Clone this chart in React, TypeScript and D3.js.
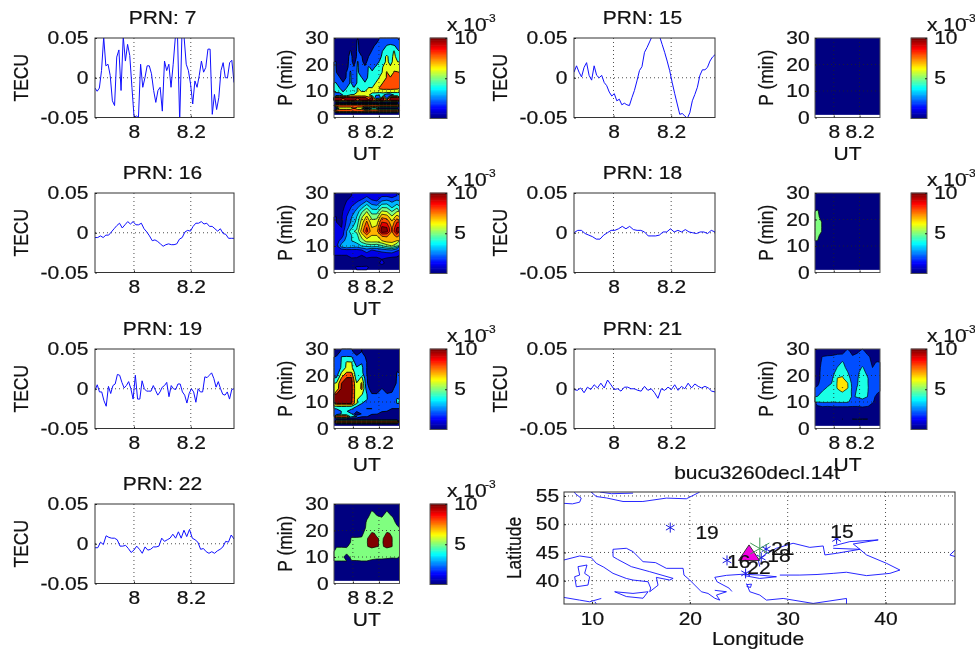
import React, { useEffect, useRef } from "react";
import * as d3 from "d3";

// TEC series per PRN (TECU), evenly sampled over the UT window
const prn7 = [-0.013,-0.017,-0.013,0.009,0.051,0.015,0.017,0.003,-0.029,-0.035,0.026,0.035,-0.016,0.052,0.021,0.042,0.028,-0.012,-0.05,-0.048,-0.05,0.017,-0.012,0,0.015,0.015,0.005,-0.016,-0.031,-0.016,-0.012,-0.042,0.021,0.009,0.017,-0.012,0.017,0.051,0.052,-0.055,0.052,0.052,0.017,0.009,-0.008,-0.033,-0.004,-0.012,0.003,0.021,0.007,0.013,0.036,0.036,-0.046,-0.021,-0.04,-0.025,0.009,0.019,0,0,0.019,0.022,-0.006];
const prn15 = [0.007,0.015,0.007,0.001,0.013,0.019,0.003,-0.003,0.015,0.003,0,0.003,-0.006,-0.01,-0.018,-0.023,-0.02,-0.029,-0.027,-0.034,-0.032,-0.034,-0.035,-0.025,-0.016,-0.004,0.009,0.014,0.032,0.038,0.045,0.052,0.056,0.058,0.052,0.042,0.032,0.021,0.009,-0.006,-0.02,-0.033,-0.046,-0.045,-0.048,-0.051,-0.044,-0.029,-0.021,-0.012,0.003,0.01,0.01,0.013,0.021,0.026,0.029];
const prn16 = [-0.006,-0.006,-0.004,-0.006,-0.003,-0.003,0.001,0.005,0.009,0.012,0.006,0.01,0.014,0.011,0.014,0.01,0.01,0.012,0.005,0.001,-0.004,-0.01,-0.009,-0.011,-0.014,-0.017,-0.015,-0.014,-0.015,-0.015,-0.014,-0.008,-0.006,0.001,0.003,0.002,0.008,0.012,0.012,0.014,0.011,0.012,0.008,0.008,0.005,0.002,0.005,-0.001,-0.002,-0.007,-0.007,-0.007];
const prn18 = [0,0.003,0.003,-0.001,-0.003,-0.005,-0.008,-0.008,-0.003,0,0.003,0.003,0.005,0.008,0.005,0.008,0.004,0.003,0.003,0.001,-0.004,-0.004,-0.004,-0.003,0.001,0.001,0.005,0.001,0.003,0.001,0.004,0.001,0,-0.001,0.001,0.001,-0.001,0.003,0.001];
const prn19 = [-0.002,0.005,-0.004,-0.004,-0.015,-0.022,0.003,-0.006,0.004,0.006,0.018,0.017,0.008,0.001,0.004,0.009,0,-0.013,0.017,-0.013,-0.013,0.01,0,-0.003,-0.003,-0.003,0.004,-0.002,-0.008,-0.004,0.002,0.004,0.008,-0.01,0.004,0,-0.001,0.006,0.006,-0.004,-0.008,-0.018,-0.006,0,-0.004,-0.017,0,-0.004,-0.004,0.015,0.014,0.017,0.02,0.013,0.002,0.009,0,-0.007,-0.008,-0.004,-0.013,-0.001,0];
const prn21 = [-0.001,-0.002,0.001,-0.005,0.002,-0.001,0.005,0.001,0.007,0.001,0.011,0.005,-0.001,0,-0.003,0.002,0.002,0,0,-0.002,-0.003,0.003,-0.002,0,-0.005,-0.012,0,-0.002,0.002,-0.001,0.005,-0.002,0.003,0,0.007,0.001,0.006,0.003,0.001,0.003,0.001,-0.003,-0.004];
const prn22 = [-0.005,-0.005,0.002,-0.001,0.01,0.008,0.007,0.007,0.005,-0.003,-0.003,-0.002,-0.006,-0.011,-0.008,-0.003,-0.007,-0.012,-0.004,-0.008,-0.007,-0.004,-0.004,-0.003,0.007,0.003,0.005,0.007,0.012,0.007,0.015,0.007,0.017,0.009,0.018,0.007,0.005,0.002,-0.007,-0.006,-0.01,-0.012,-0.01,-0.012,-0.009,-0.007,-0.004,0.003,0.002,0.011,0.006];

// period rows (min), top to bottom
const pCoarse = [29,27,25,23,21,19,17,15.5,14,12,10,8.5,6.5,5,3.5,2];
const pFine = [29,27,25,23,21,19,17,15,13,11,9.5,8.5,7.5,6.5,5.5,4.5,3.5,2.5,1.5];

// spectrum amplitude (x 10^-3), rows follow the p arrays, columns follow UT
const spec7 = [
  [.5,.5,.5,.5,.5,1,2.2,1,.8,.8,1,1.2,2.4,2.4,2.6,3,2.6,2.2],
  [.5,.5,.5,.5,.5,.8,2.4,1,.8,1,1.5,2.4,2.4,2.8,4.2,4.4,4.2,3.5],
  [.5,.6,.5,.5,2.2,1,2.5,1,1.2,1.2,2.2,2.4,2.8,4.3,4.4,4.6,6.2,4.2],
  [1,.8,.6,.8,3,.8,2.6,2.2,1.2,2,2.3,2.6,3,5,6.5,5,6.6,5],
  [2.1,1,.7,1,3.2,.9,4.2,2.4,1.5,2.5,2.6,3,4.2,5,6.6,5.2,6.8,6],
  [2.1,1,.7,1.2,3.5,2.2,4.3,2.6,2.2,4.2,3.5,4.2,4.3,6.2,7,6.3,7.4,6.5],
  [2.2,1,.8,2.2,4.2,2.4,4.4,2.6,2.5,4.3,4.2,4.3,5,6.4,8.2,6.5,8.2,8.2],
  [2.3,2.2,.9,2.3,4.3,2.4,4.4,4.2,3,4.4,4.3,4.5,6.2,6.6,8.2,8.2,8.3,8.3],
  [4.2,2.3,2.2,2.4,4.3,2.6,4.4,4.3,4.2,4.4,4.5,6.2,6.5,8.2,8.3,8.4,8.4,8.5],
  [4.3,4.2,2.4,4.2,4.3,4.3,6.2,4.4,4.4,6.3,6.2,6.5,8.3,8.5,8.5,8.6,8.5,8.4],
  [4.2,4.3,4.2,4.3,4.4,4.4,6.3,6.4,6.4,6.3,6.5,6.4,6.2,6.5,6.4,6.3,6.2,6.2],
  [2.2,2,4.2,4.2,6.2,6.3,6.5,6.4,6.5,6.4,4.3,4.2,4.2,4.3,2.4,2.3,4.2,4.2],
  [10.5,10.5,10.5,10.5,10.5,10.5,10.5,10.5,10.5,8.5,10.5,2.3,2.2,10.5,2.2,10.5,10.5,10.5],
  [10.5,10.5,8,10.5,10.5,10.5,8,10.5,10.5,10.5,10.5,8,10.5,10.5,8,10.5,10.5,10.5],
  [0,0,0,0,0,0,0,0,0,0,0,0,0,0,0,0,0,0],
  [10,10,10,10,10,10,10,10,10,10,10,10,10,10,10,10,10,10],
  [0,6.5,6.5,6.5,6.5,8,6.5,6.5,1,1,4.5,4.5,0,0,0,0,0,0],
  [10,10,10,10,10,10,10,10,10,10,10,10,10,10,10,10,10,10],
  [0,0,0,0,0,0,0,0,0,0,0,0,0,0,0,0,0,0],
];
const spec15 = [[.4,.4],[.4,.4]];
const spec16 = [
  [.5,.3,.6,1,1,1.2,1.8,1.2,1,1.8,1.8,1.5,2],
  [.5,.5,1,1.5,1.8,2.3,3,2.2,2,3,3.2,2.8,3.2],
  [.7,.6,1.3,2,2.6,3.4,4.5,3.4,3.2,4.6,4.6,3.6,4.5],
  [.8,.8,1.6,2.5,3.3,4.8,6,4.5,4.5,6.2,6,5,6],
  [1,.9,2,3,4,5.8,7.2,5.6,5.6,7.8,7.5,6.2,7.5],
  [1,.8,2.2,3.2,4.3,6.5,8.2,6.4,6.6,9,8.8,7.2,9],
  [1,1,2.5,3.8,4.8,7,9,7,7.2,10.2,10,7.8,10],
  [1.2,1.2,3,4.8,5.2,7.5,9.4,7.4,7.6,10.6,10.3,8,10.5],
  [1.3,1.5,3,4,4.6,6.5,7.8,7,7,8.2,8.2,7.5,8.5],
  [1.6,2.4,3.4,4,4.4,5.5,6.5,6.5,6.5,7,7.5,7.5,7],
  [1.8,3.5,4,3.7,3.5,4,4.2,4.5,4.3,4.8,5.5,6,5],
  [1,1.6,1.8,1.8,1.8,2,2.6,2,2.2,2.5,2.8,3,2.2],
  [1,1,1,1.2,1.3,1,1.4,1.2,1.2,1.2,1.2,1.2,1.2],
  [.6,.8,.6,.9,.8,.8,.8,.8,.8,1,.9,.8,.7],
  [.7,.5,.6,.5,.5,.5,.7,.7,.9,1.1,.9,.8,.6],
  [.5,.5,.6,.6,1.1,1.1,1.1,.8,.9,.8,.8,.8,.5],
];
const spec18 = [
  [1,.5,.4,.4,.4,.4,.4,.4,.4,.4,.4,.4,.4],
  [1.5,.5,.4,.4,.4,.4,.4,.4,.4,.4,.4,.4,.4],
  [4,1,.4,.4,.4,.4,.4,.4,.4,.4,.4,.4,.4],
  [5.5,2.5,.4,.4,.4,.4,.4,.4,.4,.4,.4,.4,.4],
  [5.8,3.5,.4,.4,.4,.4,.4,.4,.4,.4,.4,.4,.4],
  [6,4.8,.4,.4,.4,.4,.4,.4,.4,.4,.4,.4,.4],
  [6,4.8,.4,.4,.4,.4,.4,.4,.4,.4,.4,.4,.4],
  [6,4.8,.4,.4,.4,.4,.4,.4,.4,.4,.4,.4,.4],
  [5.8,3.5,.4,.4,.4,.4,.4,.4,.4,.4,.4,.4,.4],
  [5,1.5,.4,.4,.4,.4,.4,.4,.4,.4,.4,.4,.4],
  [3,.5,.4,.4,.4,.4,.4,.4,.4,.4,.4,.4,.4],
  [1,.4,.4,.4,.4,.4,.4,.4,.4,.4,.4,.4,.4],
  [.5,.4,.4,.4,.4,.4,.4,.4,.4,.4,.4,.4,.4],
  [.4,.4,.4,.4,.4,.4,.4,.4,.4,.4,.4,.4,.4],
  [.4,.4,.4,.4,.4,.4,.4,.4,.4,.4,.4,.4,.4],
  [.4,.4,.4,.4,.4,.4,.4,.4,.4,.4,.4,.4,.4],
];
const spec19 = [
  [1.5,2.2,2.3,2.2,1.5,2,1.5,.5,.5,.5,.5,.5,.5],
  [2.1,4.1,4.2,4.1,2.2,2.5,1.8,.5,.5,.5,.5,.5,1],
  [2.2,4.2,6.2,6.1,2.4,3.8,2,.5,.5,.5,.5,.5,1.2],
  [2.4,4.3,6.4,6.3,4.2,4.5,2,.5,.5,.5,.5,.5,1.6],
  [2.6,6.2,8.2,8.2,4.4,4.6,2,.5,.5,.5,.5,.5,2.1],
  [4.2,8.2,10.2,10.2,4.6,6.6,2.2,.5,.5,.5,.5,.5,2.2],
  [6.3,10.1,10.6,10.4,6.2,8.3,2.3,.5,.5,.6,.5,.6,2.3],
  [6.5,10.4,10.8,10.5,6.3,8.4,3,1,.8,2.1,1.2,1.8,2.4],
  [10.1,10.6,10.8,10.4,6.3,6.3,4.1,2.1,2.1,2.1,2.1,2.1,3],
  [10.2,10.6,10.8,10.3,6.3,4.4,4.2,2.3,2.2,2.2,2.2,2.2,4.2],
  [10.1,10.2,10.3,10.1,6.2,4.2,2.3,2.2,2.2,2.1,2.2,2.2,4.1],
  [6.3,6.4,6.3,6.2,4.3,2.3,2.4,2.2,2.1,2.1,2.1,2.1,2.2],
  [4.2,4.3,4.4,4.4,2.4,2.2,4.1,4.1,2.2,2.2,2.2,2,2],
  [2.2,4.1,4.2,2.5,2.2,2.3,2.2,2.2,2.1,2.1,2,1.5,1.5],
  [2.1,4.2,4.2,4.1,0,2.2,2.1,2.1,2.1,1.5,1.2,1,1],
  [10,10,10,4.2,4,2.2,2.1,1.5,1,.8,.6,.6,.6],
  [0,0,0,0,0,0,0,0,0,0,0,0,0],
  [10,10,10,10,10,10,10,10,10,10,10,10,10],
  [0,0,0,0,0,0,0,0,0,0,0,0,0],
];
const spec21 = [
  [1,1,1,1,1.5,1.5,2.5,1.5,1.8,2.5,1.5,1,1],
  [1,2.1,2.3,2.4,2.5,2.6,2.5,2.2,2.5,3,2.4,1.5,1],
  [1.5,2.2,2.5,2.6,3.2,4.2,3,2.3,2.6,3,2.5,1.8,2.1],
  [1.6,2.3,2.5,2.8,4.1,4.8,3.4,2.4,3.2,4.2,3,2,2.3],
  [1.6,2.4,2.5,3.6,4.6,5.8,4.2,2.6,3.6,5,3.4,2.1,2.4],
  [1.6,2.4,2.6,3.9,6.6,6.8,5,3,3.8,5.4,4.2,2.2,2.4],
  [1.8,2.5,3.2,4.2,6.8,7.5,6.7,3.2,3.9,5.6,4.2,2.3,2.4],
  [2.1,2.8,4.2,4.4,6.8,8.7,6.8,3.4,4.1,6.4,4.3,2.3,2.3],
  [2.4,4.1,4.6,4.5,6,6.7,5.6,3.5,4.2,5.6,4.2,2.2,2.1],
  [4.1,4.6,4.7,4.6,4.8,5,4.8,3.8,4.2,4.6,4,2.2,1.8],
  [4,4.2,4.2,4.1,4.2,4.2,4.2,3.4,2.8,3.2,2.8,2.1,1.6],
  [1.9,2.2,2.1,2.2,2.2,2.2,2.2,2.1,2.1,2.2,2.1,1.7,1.5],
  [.8,.7,.8,.8,.8,.8,.8,1,1,1.2,.9,.6,.6],
  [.6,.6,.6,.6,.6,.7,.7,.6,1,.7,.6,.6,.6],
  [.5,.5,.5,.5,.7,2.1,.8,2.1,2.1,2.1,2.1,.6,.5],
  [.5,.5,.5,.5,.5,.5,.5,.5,.5,.5,.5,.5,.5],
];
const spec22 = [
  [1,1,1,1,1,1,1.5,3,2,1.5,3,1.5,1],
  [1,1,1,1,1,1,2,5.6,4,2,5.6,2,1],
  [1,1,1,1,1,2,4.5,6,5.5,5,6,5.5,3],
  [1,1,1,1,1,2,5.5,6.2,6,5.6,6.2,6,4.5],
  [1,1,1,1,2,3.5,5.5,6.5,6.2,6,6.5,6.2,5.5],
  [1,1,1,3,3,4.5,6,10.5,9.5,6,10.6,9.5,5.6],
  [1,1,2,5.5,5.5,5.2,9.8,11,10.2,9.6,11,10.2,5.8],
  [1,2,3,5.6,5.6,5.5,9.8,11.5,10.2,9.6,11.5,10.2,5.8],
  [4.9,4.9,4.8,5.6,5.6,5.6,9.8,10.8,10.2,9.6,10.8,10.2,5.8],
  [5.5,5.5,5.7,5.8,5.8,5.8,5.8,8,7,5.8,8,5.8,5.8],
  [5.5,5.8,4,5.7,5.8,5.8,5.8,5.8,5.5,5.5,5.4,5.2,5.2],
  [5,5,5,4.9,4.9,5,5,4.6,4.5,4.5,4.4,4.4,4.6],
  [4.4,4.4,4.4,4.2,4.2,4.2,4,3.5,3,3,3,3,3.2],
  [2,2,2,2,2,2,2,2,2,2,2,2,2],
  [1,1,1,1,1,1,1,1,1,1,1,1,1],
  [1,1,1,1,1,1,1,1,1,1,1,1,1],
];

const utTicks = [8, 8.2];
const tecTicks = [-0.05, 0, 0.05];
const periodTicks = [0, 10, 20, 30];
const cbTicks = [5, 10];
const lonTicks = [10, 20, 30, 40];
const latTicks = [40, 45, 50, 55];

// coastlines [lon, lat]
const coasts: number[][][] = [
  [[7.1,53.7],[8,53.6],[8.74,53.9],[8.9,54.6],[8.3,55.4],[8.2,55.7]],
  [[9.9,55.7],[10.44,54.9],[11.47,54.65],[13.17,54.02],[15.2,54.02],[17.6,54.62],[19.65,54.5],[21,55.68]],
  [[10.8,55.7],[12,55.4],[14.2,55.5]],
  [[7.14,43.67],[8.74,44.38],[9.93,44.08],[10.44,43.08],[11.2,42.4],[12.15,41.3],[13.51,40.4],[14.19,40.12],[15.73,39.82],[16,38.7],[15.9,38.05],[16.75,39.2],[16.58,40.59],[17.94,40.12],[18.29,40.41],[15.9,41.6],[14.02,42.49],[12.6,43.8],[12.15,44.26],[12.15,45.56],[13.51,45.74],[14.19,45.15],[15.22,43.37],[16.5,43.2],[17.6,42.19],[19.31,42.19],[19.4,41],[19.99,40.12],[21.18,38.05],[21.86,37.75],[22.55,36.9],[23.06,36.57],[22.72,37.46],[23.74,38.05],[22.55,38.3]],
  [[22.55,40.6],[22.8,39.8],[24,38.7],[24.3,38.1]],
  [[22.55,40.6],[23.74,40.95],[25.44,41.15],[27.15,41],[28.85,40.7],[27.15,40.4],[25.6,40.9]],
  [[27.15,42.49],[27,43.6],[27.83,44.85],[28.85,45.74],[30.55,46.63],[32.26,45.9],[33.63,46.15],[33.8,44.56],[34.99,44.85],[37.38,45.56],[38.06,44.56],[40.1,43.08],[41.47,41.89],[40.45,41.3],[38.06,40.9],[36,41.5],[34.65,41.3],[33,41.1],[31.24,41],[29.2,41]],
  [[34.65,46.15],[36.35,46.92],[39.25,47.22],[36.7,46.5],[37.38,45.56],[34.65,45.74]],
  [[25.79,39.5],[26.13,38.05],[27.15,37.46],[27.83,36.57],[29.54,36.86],[32.6,35.98],[36.01,36.86],[36.01,35.9]],
  [[25.8,39.3],[26.3,39.4],[26.2,38.8],[25.8,39]],
  [[7.14,37.04],[8.74,36.57],[9.76,36.27],[10.95,36.86]],
  [[10.3,36.27],[10.44,35.9]],
  [[12.32,38.05],[14.19,37.75],[15.73,38.05],[15.22,36.9],[13.51,37.2],[12.32,38.05]],
  [[8.57,42.49],[9.49,42.78],[9.25,41.3],[9.76,40.71],[9.59,39.23],[8.4,38.93],[8.23,40.71],[8.74,41],[8.57,42.49]],
  [[47.13,45.44],[46.58,44.56],[47.13,44.26]],
];

// satellite sub-ionospheric points and their labels
const satLon = [18, 35, 23.8, 25.7, 27.3, 27.8];
const satLat = [49.4, 47.4, 43.6, 41.3, 44.1, 45.6];
const labelText = ["19", "15", "16", "22", "18", "21"];
const labelLon = [21.76, 35.55, 25, 27.07, 29.1, 29.5];
const labelLat = [48.44, 48.62, 43.31, 42.25, 44.37, 45.61];
const stationLonLat = [26.05, 44.5];
const refLonLat = [27.15, 45.7];

const panels = [
  { prn: 7, series: prn7, spec: spec7, rows: pFine, levels: [2, 4, 6, 8, 10], edge: 0.9, col: 0, row: 0, showUt: true },
  { prn: 15, series: prn15, spec: spec15, rows: [22, 8], levels: [5], edge: 0.7, col: 1, row: 0, showUt: true },
  { prn: 16, series: prn16, spec: spec16, rows: pCoarse, levels: [1, 2, 3, 4, 5, 6, 7, 8, 9, 10], edge: 0.7, col: 0, row: 1, showUt: true },
  { prn: 18, series: prn18, spec: spec18, rows: pCoarse, levels: [5], edge: 0.7, col: 1, row: 1, showUt: false },
  { prn: 19, series: prn19, spec: spec19, rows: pFine, levels: [2, 4, 6, 8, 10], edge: 0.9, col: 0, row: 2, showUt: true },
  { prn: 21, series: prn21, spec: spec21, rows: pCoarse, levels: [2, 4, 6.5, 8.6], edge: 0.7, col: 1, row: 2, showUt: true },
  { prn: 22, series: prn22, spec: spec22, rows: pCoarse, levels: [5, 10], edge: 0.7, col: 0, row: 3, showUt: true },
];

const rowTops = [38, 193, 349, 504];
const plotH = 79.5;
const lineX = [[95, 234], [574, 715]];
const heatX = [[334, 399.5], [815, 880]];
const cbX = [[430, 447], [911, 927]];

const FS = 17.5;
const SX = 1.2; // the source image is stretched sideways
const FONT = "'Liberation Sans', Arial, sans-serif";
const plainTick = (d: any) => String(d); // keeps the ascii minus of the original

const jet = (t: number) => {
  const c = (v: number) => Math.round(255 * Math.max(0, Math.min(1, 1.5 - Math.abs(4 * t - v))));
  return `rgb(${c(3)},${c(2)},${c(1)})`;
};

const App = () => {
  const ref = useRef<SVGSVGElement>(null);

  useEffect(() => {
    const svg = d3.select(ref.current);
    svg.selectAll("*").remove();

    const label = (x: number, y: number, s: string, anchor = "middle", rot = false, size = FS) =>
      svg.append("text")
        .attr("transform", `translate(${x},${y}) scale(${SX},1)${rot ? " rotate(-90)" : ""}`)
        .attr("text-anchor", anchor)
        .attr("font-family", FONT)
        .attr("font-size", size)
        .attr("fill", "#111")
        .attr("stroke", "#111")
        .attr("stroke-width", 0.2)
        .text(s);

    const styleAxis = (g: any) => {
      g.select(".domain").remove();
      g.selectAll("line").attr("stroke", "#222");
      g.selectAll("text")
        .attr("font-family", FONT)
        .attr("font-size", FS)
        .attr("fill", "#111")
        .attr("stroke", "#111")
        .attr("stroke-width", 0.2)
        .attr("transform", `scale(${SX},1)`);
    };

    const dotted = (g: any, x1: number, y1: number, x2: number, y2: number) =>
      g.append("line")
        .attr("x1", x1).attr("y1", y1).attr("x2", x2).attr("y2", y2)
        .attr("stroke", "#222").attr("stroke-width", 0.8).attr("stroke-dasharray", "1,3");

    const box = (x0: number, x1: number, y0: number, y1: number, stroke = "#333") =>
      svg.append("rect")
        .attr("x", x0).attr("y", y0).attr("width", x1 - x0).attr("height", y1 - y0)
        .attr("fill", "none").attr("stroke", stroke).attr("stroke-width", 1);

    panels.forEach((p, idx) => {
      const top = rowTops[p.row];
      const bottom = top + plotH;

      // TEC line panel
      const [lx0, lx1] = lineX[p.col];
      const x = d3.scaleLinear().domain([7.863, 8.352]).range([lx0, lx1]);
      const y = d3.scaleLinear().domain([-0.05, 0.05]).range([bottom, top]);
      const clipId = `clip-${idx}`;
      svg.append("clipPath").attr("id", clipId).append("rect")
        .attr("x", lx0).attr("y", top).attr("width", lx1 - lx0).attr("height", plotH);

      const g = svg.append("g");
      utTicks.forEach((t) => dotted(g, x(t), top, x(t), bottom));
      dotted(g, lx0, y(0), lx1, y(0));

      const n = p.series.length;
      const ut = d3.scaleLinear().domain([0, n - 1]).range(x.domain());
      const line = d3.line<number>().x((_, i) => x(ut(i))).y((d) => y(d));
      g.append("path").datum(p.series)
        .attr("clip-path", `url(#${clipId})`)
        .attr("d", line)
        .attr("fill", "none").attr("stroke", "#1010ff").attr("stroke-width", 1);

      box(lx0, lx1, top, bottom);
      svg.append("g").attr("transform", `translate(0,${bottom})`)
        .call(d3.axisBottom(x).tickValues(utTicks).tickFormat(plainTick).tickSize(-2).tickPadding(8.5))
        .call(styleAxis);
      svg.append("g").attr("transform", `translate(${lx0},0)`)
        .call(d3.axisLeft(y).tickValues(tecTicks).tickFormat(plainTick).tickSize(-2).tickPadding(5.5))
        .call(styleAxis);
      label((lx0 + lx1) / 2 - 2, top - 14, `PRN: ${p.prn}`);
      label(lx0 - 67, (top + bottom) / 2, "TECU", "middle", true);

      // period / UT contour panel
      const [hx0, hx1] = heatX[p.col];
      const hx = d3.scaleLinear().domain([7.855, 8.358]).range([hx0, hx1]);
      const hy = d3.scaleLinear().domain([0, 30]).range([bottom, top]);
      const nc = p.spec[0].length;
      const nr = p.spec.length;
      const colUt = d3.scaleLinear().domain([0, nc]).range([hx0, hx1]);
      const rowP = d3.scaleLinear()
        .domain([0, ...p.rows.map((_, i) => i + 0.5), nr])
        .range([30, ...p.rows, 1]);

      const h = svg.append("g");
      h.append("rect")
        .attr("x", hx0).attr("y", top).attr("width", hx1 - hx0).attr("height", hy(1) - top)
        .attr("fill", jet(0));
      const contours = d3.contours().size([nc, nr]).thresholds(p.levels)(p.spec.flat());
      const path = d3.geoPath(d3.geoTransform({
        point(px: number, py: number) {
          (this as any).stream.point(colUt(px), hy(rowP(py)));
        },
      }));
      h.selectAll("path").data(contours).join("path")
        .attr("d", path as any)
        .attr("fill", (d: any) => jet(d.value / 10))
        .attr("stroke", "#000").attr("stroke-width", p.edge);
      utTicks.forEach((t) => dotted(h, hx(t), top, hx(t), bottom));
      [10, 20].forEach((t) => dotted(h, hx0, hy(t), hx1, hy(t)));

      box(hx0, hx1, top, bottom, "#555");
      const hb = svg.append("g").attr("transform", `translate(0,${bottom})`)
        .call(d3.axisBottom(hx).tickValues(utTicks).tickFormat(plainTick).tickSize(-2).tickPadding(8.5))
        .call(styleAxis);
      if (!p.showUt) hb.selectAll("text").remove();
      svg.append("g").attr("transform", `translate(${hx0},0)`)
        .call(d3.axisLeft(hy).tickValues(periodTicks).tickSize(-2).tickPadding(4.5))
        .call(styleAxis);
      label(hx0 - 42, (top + bottom) / 2, "P (min)", "middle", true);
      if (p.showUt) label((hx0 + hx1) / 2, bottom + 42, "UT");

      // colour bar
      const [cx0, cx1] = cbX[p.col];
      const cb = d3.scaleLinear().domain([0, 10]).range([bottom + 1, top]);
      const band = d3.scaleBand<number>().domain(d3.range(64)).range([bottom + 1, top]);
      svg.append("g").selectAll("rect").data(d3.range(64)).join("rect")
        .attr("x", cx0).attr("width", cx1 - cx0)
        .attr("y", (d) => band(d)! - 0.3)
        .attr("height", band.bandwidth() + 0.6)
        .attr("fill", (d) => jet(d / 63));
      box(cx0, cx1, top, bottom + 1, "#555");
      svg.append("g").attr("transform", `translate(${cx1},0)`)
        .call(d3.axisRight(cb).tickValues(cbTicks).tickSize(-2).tickPadding(6))
        .call(styleAxis);
      label(cx1, top - 7, "x 10", "start");
      label(cx1 + 38, top - 16, "-3", "start", false, 10);
    });

    // map panel
    const mx = d3.scaleLinear().domain([7.14, 47.1]).range([564, 955]);
    const my = d3.scaleLinear().domain([35.88, 55.7]).range([604, 492]);
    svg.append("clipPath").attr("id", "clip-map").append("rect")
      .attr("x", 564).attr("y", 492).attr("width", 391).attr("height", 112);
    const m = svg.append("g");
    lonTicks.forEach((t) => dotted(m, mx(t), my.range()[1], mx(t), my.range()[0]));
    latTicks.forEach((t) => dotted(m, mx.range()[0], my(t), mx.range()[1], my(t)));

    const coastLine = d3.line<number[]>().x((d) => mx(d[0])).y((d) => my(d[1]));
    m.append("g").attr("clip-path", "url(#clip-map)")
      .selectAll("path").data(coasts).join("path")
      .attr("d", coastLine as any)
      .attr("fill", "none").attr("stroke", "#1010ff").attr("stroke-width", 0.9);

    const star = d3.symbol(d3.symbolAsterisk, 70);
    satLon.forEach((lon, i) => {
      m.append("path").attr("d", star as any)
        .attr("transform", `translate(${mx(lon)},${my(satLat[i])})`)
        .attr("fill", "none").attr("stroke", "#1818e0").attr("stroke-width", 1);
    });
    m.append("path").attr("d", d3.symbol(d3.symbolTriangle, 140) as any)
      .attr("transform", `translate(${mx(stationLonLat[0])},${my(stationLonLat[1])}) scale(1.17,1)`)
      .attr("fill", "#f000e0").attr("stroke", "#222").attr("stroke-width", 0.8);
    m.append("path").attr("d", d3.symbol(d3.symbolAsterisk, 340) as any)
      .attr("transform", `translate(${mx(refLonLat[0])},${my(refLonLat[1])})`)
      .attr("fill", "none").attr("stroke", "#3f9a55").attr("stroke-width", 1);

    box(564, 955, 492, 604);
    svg.append("g").attr("transform", "translate(0,604)")
      .call(d3.axisBottom(mx).tickValues(lonTicks).tickSize(-2).tickPadding(8.5))
      .call(styleAxis);
    svg.append("g").attr("transform", "translate(564,0)")
      .call(d3.axisLeft(my).tickValues(latTicks).tickSize(-2).tickPadding(4))
      .call(styleAxis);
    labelText.forEach((s, i) => label(mx(labelLon[i]), my(labelLat[i]) + 6, s));
    label(757, 479, "bucu3260decl.14t");
    label(758, 645, "Longitude");
    label(521, 548, "Latitude", "middle", true);
  }, []);

  return (
    <svg
      ref={ref}
      width={975}
      height={651}
      style={{ position: "absolute", left: 0, top: 0, background: "#fff", filter: "blur(0.4px)" }}
    />
  );
};

export default App;
